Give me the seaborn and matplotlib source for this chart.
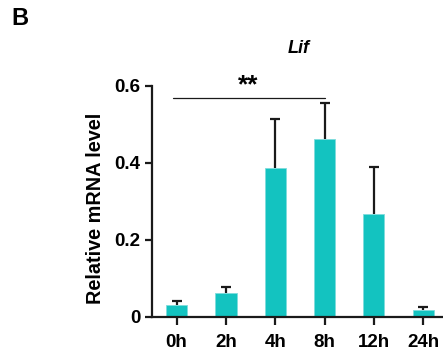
import matplotlib
matplotlib.use("Agg")
import matplotlib.pyplot as plt
import seaborn as sns
import numpy as np
import pandas as pd

categories = ["0h", "2h", "4h", "8h", "12h", "24h"]
means = [0.030, 0.062, 0.386, 0.463, 0.268, 0.017]
upper = [0.041, 0.078, 0.514, 0.555, 0.389, 0.026]
yticks = [0, 0.2, 0.4, 0.6]
ytick_labels = ["0", "0.2", "0.4", "0.6"]

sns.set_style("ticks")
plt.rcParams['font.family'] = ['Liberation Sans', 'DejaVu Sans']
plt.rcParams['font.weight'] = 'bold'
plt.rcParams['text.color'] = 'black'
plt.rcParams['axes.labelcolor'] = 'black'
plt.rcParams['xtick.color'] = 'black'
plt.rcParams['ytick.color'] = 'black'

color = "#13C3C0"
dark = "#1a1a1a"
fig = plt.figure(figsize=(4.43, 3.61), dpi=100)
ax = fig.add_axes([0.343, 0.122, 0.668, 0.640])

df = pd.DataFrame({"time": categories, "value": means})
sns.barplot(data=df, x="time", y="value", color=color, width=0.43,
            saturation=1, errorbar=None, ax=ax, zorder=2,
            edgecolor="#7fdcdc", linewidth=0.6)

x = np.arange(len(categories))
err = np.array(upper) - np.array(means)
ax.errorbar(x, means, yerr=[np.zeros(len(err)), err], fmt="none",
            ecolor=dark, elinewidth=1.6, capsize=0, zorder=3)
ax.plot(x, upper, linestyle="none", marker="_", markersize=7.5,
        markeredgewidth=1.6, color=dark, zorder=3)

ax.set_xlim(-0.5, 5.5)
ax.set_ylim(0, 0.6)
ax.set_yticks(yticks)
ax.set_yticklabels(ytick_labels)
ax.set_xlabel("")
ax.set_ylabel("Relative mRNA level", fontsize=14.3, fontweight="bold")
ax.yaxis.set_label_coords(-0.16, 0.472)
ax.tick_params(axis="both", labelsize=13.5, width=1.6, length=5, color=dark, labelcolor="black")
ax.tick_params(axis="x", length=6, pad=6)
for lab in ax.get_xticklabels() + ax.get_yticklabels():
    lab.set_fontweight("bold")
for s in ["left", "bottom"]:
    ax.spines[s].set_linewidth(1.6)
    ax.spines[s].set_color(dark)
sns.despine(ax=ax)

# significance bracket
ax.plot([-0.08, 3.0], [0.569, 0.569], color=dark, lw=0.9, clip_on=False)
ax.text(1.45, 0.571, "**", ha="center", va="bottom", fontsize=19, fontweight="bold", clip_on=False)

fig.text(0.675, 0.865, "Lif", ha="center", va="center", fontsize=13,
         fontweight="bold", fontstyle="italic")
fig.text(0.025, 0.95, "B", ha="left", va="center", fontsize=17, fontweight="bold")

fig.savefig("out.png", dpi=100)
